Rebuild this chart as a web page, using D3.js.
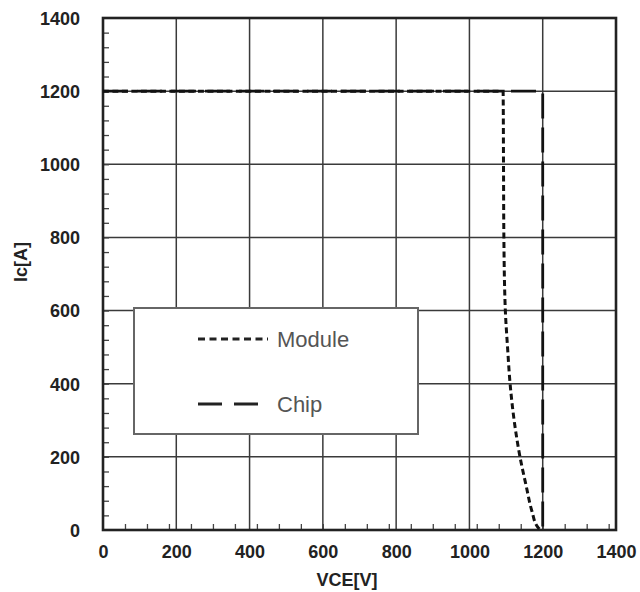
<!DOCTYPE html>
<html>
<head>
<meta charset="utf-8">
<script src="https://cdn.jsdelivr.net/npm/d3@7"></script>
<style>
  body { margin: 0; background: #fff; }
  svg { display: block; }
  text { font-family: "Liberation Sans", Arial, sans-serif; }
</style>
</head>
<body>
<div id="container"></div>
<script>
// tick values and data
const xTicks = [0, 200, 400, 600, 800, 1000, 1200, 1400];
const yTicks = [0, 200, 400, 600, 800, 1000, 1200, 1400];
const xMinorStep = 60;
const yMinorStep = 40;

// [VCE, Ic]
const moduleCurve = [
  [0, 1200], [1092, 1200], [1093, 1000], [1094, 800], [1098, 600],
  [1104, 500], [1111, 400], [1122, 300], [1138, 200], [1155, 120],
  [1171, 50], [1185, 10], [1193, 0]
];
const chipCurve = [[0, 1200], [1200, 1200], [1200, 0]];

const seriesNames = ["Module", "Chip"];
const seriesDash = ["6,3.5", "25,9"];

const width = 640, height = 592;
const margin = {left: 103, right: 24, top: 18, bottom: 62};

const svg = d3.select("#container")
  .append("svg")
  .attr("width", width)
  .attr("height", height);

const x = d3.scaleLinear().domain([0, 1400]).range([margin.left, width - margin.right]);
const y = d3.scaleLinear().domain([0, 1400]).range([height - margin.bottom, margin.top]);

const x0 = x(0), x1 = x(1400), y0 = y(0), y1 = y(1400);
const fmt = d3.format("d");

// grid
const grid = svg.append("g")
  .attr("stroke", "#3a3a3a")
  .attr("stroke-width", 1.5);

grid.selectAll(".vg")
  .data(xTicks.slice(1, -1))
  .join("line")
  .attr("x1", d => x(d)).attr("x2", d => x(d))
  .attr("y1", y1).attr("y2", y0);

grid.selectAll(".hg")
  .data(yTicks.slice(1, -1))
  .join("line")
  .attr("x1", x0).attr("x2", x1)
  .attr("y1", d => y(d)).attr("y2", d => y(d));

// minor ticks, pointing inward
const xMinor = d3.range(xMinorStep, 1400, xMinorStep);
const yMinor = d3.range(yMinorStep, 1400, yMinorStep);

svg.append("g")
  .attr("transform", `translate(0,${y0})`)
  .call(d3.axisBottom(x).tickValues(xMinor).tickSizeInner(-6).tickSizeOuter(0).tickFormat(""))
  .call(g => g.select(".domain").remove())
  .call(g => g.selectAll("line").attr("stroke", "#444").attr("stroke-width", 1.3));

svg.append("g")
  .attr("transform", `translate(${x0},0)`)
  .call(d3.axisLeft(y).tickValues(yMinor).tickSizeInner(-6).tickSizeOuter(0).tickFormat(""))
  .call(g => g.select(".domain").remove())
  .call(g => g.selectAll("line").attr("stroke", "#444").attr("stroke-width", 1.3));

// tick labels
svg.append("g")
  .attr("transform", `translate(0,${y0 + 8})`)
  .call(d3.axisBottom(x).tickValues(xTicks).tickFormat(fmt).tickSize(0).tickPadding(0))
  .call(g => g.select(".domain").remove())
  .call(g => g.selectAll("text")
    .attr("dy", "1.1em")
    .attr("font-size", 18)
    .attr("font-weight", "bold")
    .attr("fill", "#222"));

svg.append("g")
  .attr("transform", `translate(${x0 - 23},0)`)
  .call(d3.axisLeft(y).tickValues(yTicks).tickFormat(fmt).tickSize(0).tickPadding(0))
  .call(g => g.select(".domain").remove())
  .call(g => g.selectAll("text")
    .attr("dy", "0.35em")
    .attr("font-size", 18)
    .attr("font-weight", "bold")
    .attr("fill", "#222"));

// frame
svg.append("rect")
  .attr("x", x0).attr("y", y1)
  .attr("width", x1 - x0).attr("height", y0 - y1)
  .attr("fill", "none")
  .attr("stroke", "#222")
  .attr("stroke-width", 2.6);

// curves
const line = d3.line().x(d => x(d[0])).y(d => y(d[1]));

svg.append("path")
  .datum(chipCurve)
  .attr("d", line)
  .attr("fill", "none")
  .attr("stroke", "#111")
  .attr("stroke-width", 2.8)
  .attr("stroke-dasharray", seriesDash[1]);

svg.append("path")
  .datum(moduleCurve)
  .attr("d", line.curve(d3.curveMonotoneY))
  .attr("fill", "none")
  .attr("stroke", "#111")
  .attr("stroke-width", 3)
  .attr("stroke-dasharray", seriesDash[0]);

// legend
const legend = svg.append("g");
legend.append("rect")
  .attr("x", 134).attr("y", 308)
  .attr("width", 284).attr("height", 126)
  .attr("fill", "#fff")
  .attr("stroke", "#666")
  .attr("stroke-width", 2);

const item = legend.selectAll(".item")
  .data(seriesNames)
  .join("g")
  .attr("transform", (d, i) => `translate(198,${339 + i * 65})`);

item.append("line")
  .attr("x1", 0).attr("x2", (d, i) => i === 0 ? 70 : 62)
  .attr("stroke", "#222")
  .attr("stroke-width", 3)
  .attr("stroke-dasharray", (d, i) => i === 0 ? "7,4.5" : "24,12");

item.append("text")
  .attr("x", 79)
  .attr("dy", "0.36em")
  .attr("font-size", 22)
  .attr("fill", "#555")
  .text(d => d);

// axis titles
svg.append("text")
  .attr("x", 347).attr("y", 586)
  .attr("text-anchor", "middle")
  .attr("font-size", 18)
  .attr("font-weight", "bold")
  .attr("fill", "#222")
  .text("VCE[V]");

svg.append("text")
  .attr("transform", "translate(27,262) rotate(-90)")
  .attr("text-anchor", "middle")
  .attr("font-size", 18)
  .attr("font-weight", "bold")
  .attr("fill", "#222")
  .text("Ic[A]");
</script>
</body>
</html>
